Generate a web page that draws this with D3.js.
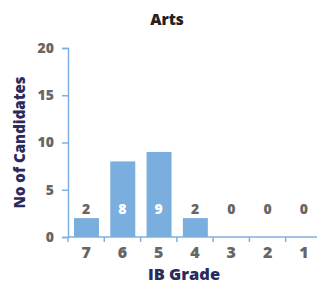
<!DOCTYPE html>
<html>
<head>
<meta charset="utf-8">
<script src="https://cdn.jsdelivr.net/npm/d3@7"></script>
<style>
  body { margin: 0; background: #fff; }
  text { font-family: "Open Sans", sans-serif; font-weight: 800; }
</style>
</head>
<body>
<div id="chart"></div>
<script>
// chart data
const grades = ["7", "6", "5", "4", "3", "2", "1"];
const counts = [2, 8, 9, 2, 0, 0, 0];
const yTicks = [0, 5, 10, 15, 20];

const width = 317, height = 284;
const margin = {top: 48, right: -5, bottom: 47, left: 68};

const svg = d3.select("#chart").append("svg")
    .attr("width", width)
    .attr("height", height);

const x = d3.scaleBand()
    .domain(grades)
    .range([margin.left, width - margin.right])
    .padding(0);
const y = d3.scaleLinear()
    .domain([0, 20])
    .range([height - margin.bottom, margin.top]);

const axisColor = "#7fb0e0";
const barColor = "#7aaedf";
const barInset = 6, barW = x.bandwidth() - 11.3;

// bars
svg.selectAll(".bar")
    .data(counts)
    .enter()
    .append("rect")
    .attr("class", "bar")
    .attr("x", (d, i) => x(grades[i]) + barInset)
    .attr("width", barW)
    .attr("y", d => y(d))
    .attr("height", d => y(0) - y(d))
    .attr("fill", barColor);

// value labels (fixed row just above the baseline)
const labelY = y(0) - 23;
svg.selectAll(".val")
    .data(counts)
    .enter()
    .append("text")
    .attr("class", "val")
    .attr("x", (d, i) => x(grades[i]) + x.bandwidth() / 2)
    .attr("y", labelY)
    .attr("text-anchor", "middle")
    .attr("font-size", 14)
    .attr("fill", d => y(d) < labelY - 14 ? "#ffffff" : "#666666")
    .text(d => d);

// y axis
const yAxis = svg.append("g")
    .attr("transform", "translate(" + margin.left + ",0)")
    .call(d3.axisLeft(y).tickValues(yTicks).tickSize(6).tickPadding(8));
yAxis.selectAll("path, line").attr("stroke", axisColor).attr("stroke-width", 1.5);
yAxis.selectAll("text").attr("fill", "#666").attr("font-size", 14)
    .style("font-family", "'Open Sans', sans-serif").style("font-weight", "800");

// x axis: line, ticks at band edges, labels at band centres
const xg = svg.append("g").attr("transform", "translate(0," + y(0) + ")");
xg.append("line")
    .attr("x1", margin.left).attr("x2", width)
    .attr("stroke", axisColor).attr("stroke-width", 1.5);
xg.selectAll(".xt")
    .data(grades)
    .enter()
    .append("line")
    .attr("x1", d => x(d)).attr("x2", d => x(d))
    .attr("y1", 0).attr("y2", 5)
    .attr("stroke", axisColor).attr("stroke-width", 1.5);
xg.selectAll(".xl")
    .data(grades)
    .enter()
    .append("text")
    .attr("x", d => x(d) + x.bandwidth() / 2)
    .attr("y", 21)
    .attr("text-anchor", "middle")
    .attr("font-size", 16)
    .attr("fill", "#666")
    .text(d => d);

// titles
svg.append("text")
    .attr("x", 167).attr("y", 25)
    .attr("text-anchor", "middle")
    .attr("font-size", 15.5)
    .attr("fill", "#222")
    .text("Arts");

svg.append("text")
    .attr("x", 184).attr("y", 280)
    .attr("text-anchor", "middle")
    .attr("font-size", 16.5)
    .attr("fill", "#2b2a5c")
    .text("IB Grade");

svg.append("text")
    .attr("transform", "translate(25," + ((y(0) + y(20)) / 2) + ") rotate(-90)")
    .attr("text-anchor", "middle")
    .attr("font-size", 15)
    .attr("fill", "#2b2a5c")
    .text("No of Candidates");
</script>
</body>
</html>
